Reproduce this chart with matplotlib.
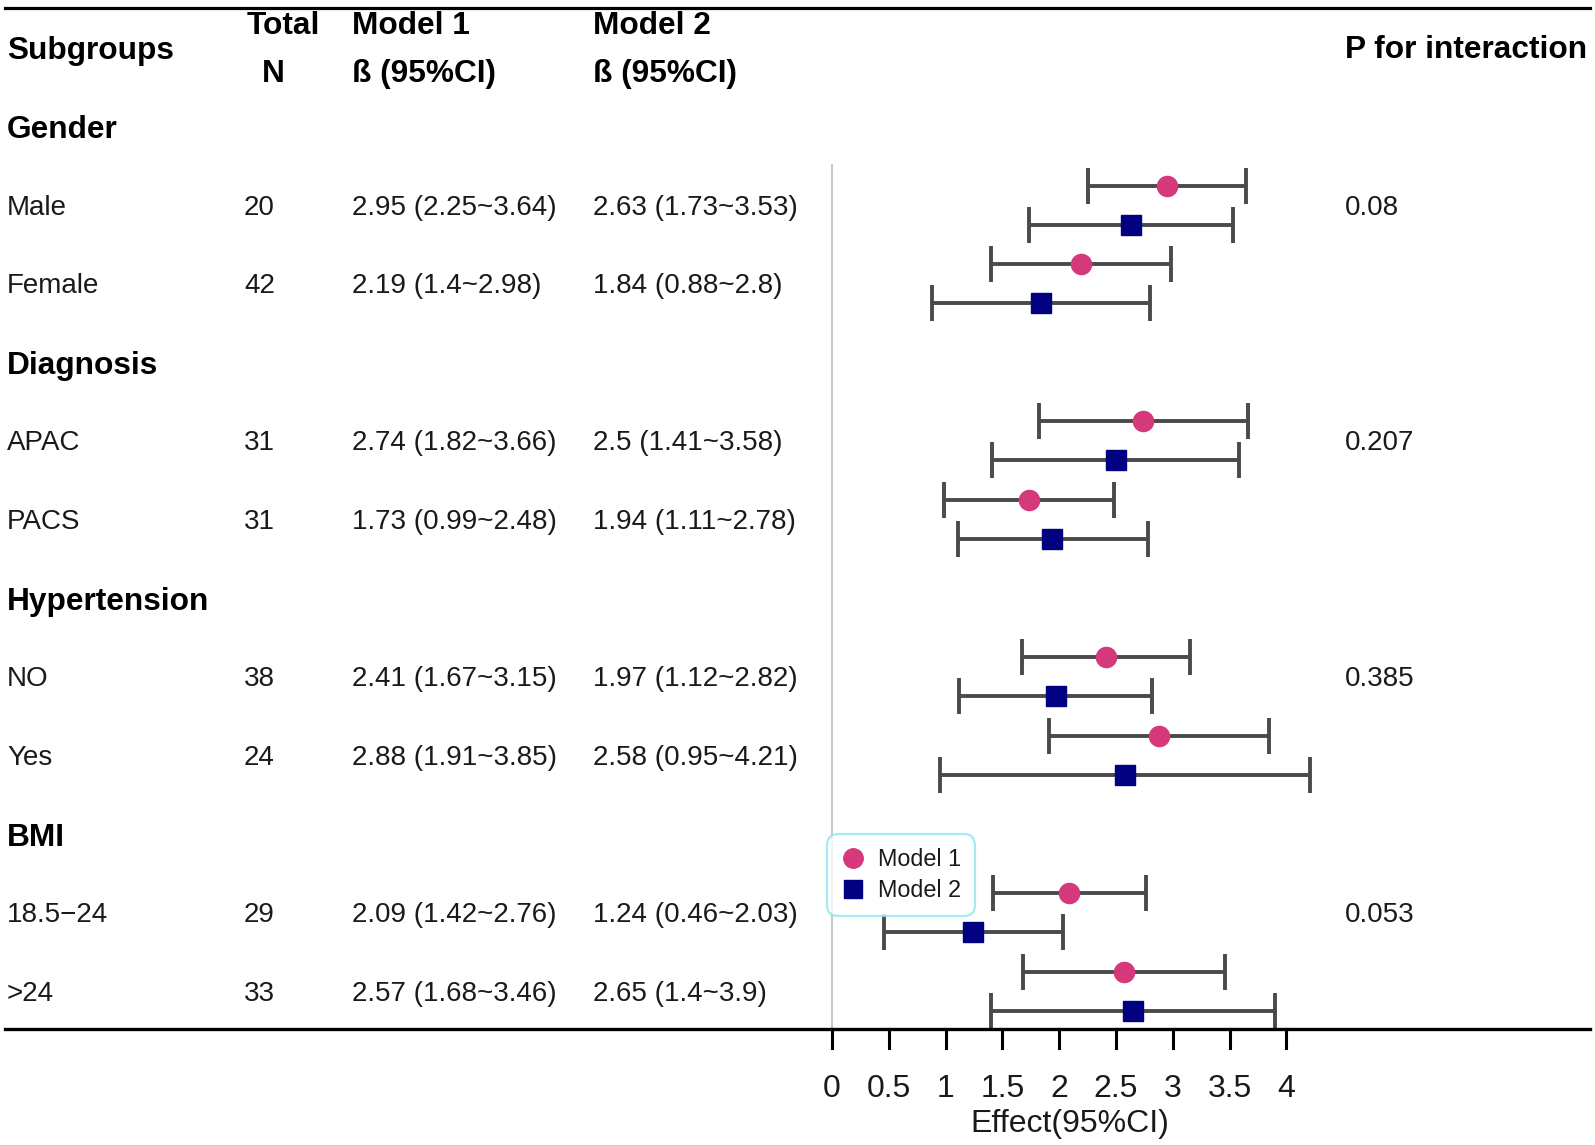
import matplotlib
matplotlib.use("Agg")
import matplotlib.pyplot as plt
from matplotlib.lines import Line2D
from matplotlib.transforms import blended_transform_factory

plt.rcParams['font.family'] = ['Liberation Sans', 'DejaVu Sans']

# rows of the table (group headers have no data)
rows = ["Gender", "Male", "Female", "Diagnosis", "APAC", "PACS",
        "Hypertension", "NO", "Yes", "BMI", "18.5\u221224", ">24"]
is_group = [True, False, False, True, False, False, True, False, False, True, False, False]
n_total = ["", "20", "42", "", "31", "31", "", "38", "24", "", "29", "33"]
p_inter = ["", "0.08", "", "", "0.207", "", "", "0.385", "", "", "0.053", ""]

m1_est = [None, 2.95, 2.19, None, 2.74, 1.73, None, 2.41, 2.88, None, 2.09, 2.57]
m1_lo = [None, 2.25, 1.4, None, 1.82, 0.99, None, 1.67, 1.91, None, 1.42, 1.68]
m1_hi = [None, 3.64, 2.98, None, 3.66, 2.48, None, 3.15, 3.85, None, 2.76, 3.46]
m2_est = [None, 2.63, 1.84, None, 2.5, 1.94, None, 1.97, 2.58, None, 1.24, 2.65]
m2_lo = [None, 1.73, 0.88, None, 1.41, 1.11, None, 1.12, 0.95, None, 0.46, 1.4]
m2_hi = [None, 3.53, 2.8, None, 3.58, 2.78, None, 2.82, 4.21, None, 2.03, 3.9]

ticks = [0, 0.5, 1, 1.5, 2, 2.5, 3, 3.5, 4]
tick_labels = ["0", "0.5", "1", "1.5", "2", "2.5", "3", "3.5", "4"]

c_m1 = "#D6397B"
c_m2 = "#000080"
c_bar = "#4a4a4a"
c_txt = "#1a1a1a"

W, H = 1595, 1145
fig = plt.figure(figsize=(W / 100, H / 100), dpi=100)
ax = fig.add_axes([0, 0, 1, 1])
# x in effect units: 0 -> 832 px, 4 -> 1286 px
ppu = 113.6
x0 = 832.0
ax.set_xlim(-x0 / ppu, (W - x0) / ppu)
ax.set_ylim(H, 0)
ax.axis("off")

tr = blended_transform_factory(fig.transFigure, ax.transData)
def px(x):
    return x / W

fs = 20      # body text
fh = 22.8    # bold headers
fa = 23      # axis text
row_y = [127 + 78.6 * i for i in range(len(rows))]
y_axis = 1029

def head(x, y, s, ha="left"):
    ax.text(px(x), y, s, transform=tr, fontsize=fh, fontweight="bold", va="baseline", ha=ha)

def body(x, y, s):
    ax.text(px(x), y, s, transform=tr, fontsize=fs, va="baseline", ha="left", color=c_txt)

# header
head(7, 58.5, "Subgroups")
head(283, 34.5, "Total", ha="center")
head(273, 82, "N", ha="center")
head(352, 34.5, "Model 1")
head(352, 82, "\u00df (95%CI)")
head(593, 34.5, "Model 2")
head(593, 82, "\u00df (95%CI)")
head(1345, 58.5, "P for interaction")

for i, name in enumerate(rows):
    y = row_y[i]
    if is_group[i]:
        head(7, y + 11.4, name)
        continue
    yb = y + 9
    body(7, yb, name)
    body(244, yb, n_total[i])
    body(352, yb, f"{m1_est[i]:g} ({m1_lo[i]:g}~{m1_hi[i]:g})")
    body(593, yb, f"{m2_est[i]:g} ({m2_lo[i]:g}~{m2_hi[i]:g})")
    if p_inter[i]:
        body(1345, yb, p_inter[i])

    y1 = y - 20
    y2 = y + 19
    ax.errorbar(m1_est[i], y1, xerr=[[m1_est[i] - m1_lo[i]], [m1_hi[i] - m1_est[i]]],
                fmt="none", ecolor=c_bar, elinewidth=2.8, capsize=13, capthick=2.8, zorder=2)
    ax.errorbar(m2_est[i], y2, xerr=[[m2_est[i] - m2_lo[i]], [m2_hi[i] - m2_est[i]]],
                fmt="none", ecolor=c_bar, elinewidth=2.8, capsize=13, capthick=2.8, zorder=2)
    ax.plot(m1_est[i], y1, "o", color=c_m1, markersize=14.5, zorder=3)
    ax.plot(m2_est[i], y2, "s", color=c_m2, markersize=14.5, zorder=3)

# reference line at 0
ax.plot([0, 0], [165, y_axis], color="#c8c8c8", lw=1.5, zorder=1)

# top and bottom rules
xl = (5 - x0) / ppu
xr = (1590 - x0) / ppu
ax.plot([xl, xr], [7.5, 7.5], color="black", lw=2.3)
ax.plot([xl, xr], [y_axis, y_axis], color="black", lw=2.4)

# x axis ticks
for t, lab in zip(ticks, tick_labels):
    ax.plot([t, t], [y_axis, y_axis + 19], color="black", lw=2.2)
    ax.text(t, 1097, lab, fontsize=fa, ha="center", va="baseline", color=c_txt)
ax.text((1070 - x0) / ppu, 1132, "Effect(95%CI)", fontsize=fa, ha="center", va="baseline", color=c_txt)

handles = [Line2D([], [], marker="o", color=c_m1, ls="none", markersize=14),
           Line2D([], [], marker="s", color=c_m2, ls="none", markersize=13)]
leg = ax.legend(handles, ["Model 1", "Model 2"], loc="upper left",
                bbox_to_anchor=(827 / W, 1 - 834 / H), bbox_transform=fig.transFigure,
                fontsize=16.8, frameon=True, fancybox=True, edgecolor="#8FE6F0",
                handletextpad=0.6, borderpad=0.6, labelspacing=0.35, handlelength=1.0,
                borderaxespad=0)
leg.get_frame().set_linewidth(1.6)
leg.get_frame().set_boxstyle("round", pad=0, rounding_size=0.5)
for t in leg.get_texts():
    t.set_color(c_txt)

fig.savefig("out.png", dpi=100)
